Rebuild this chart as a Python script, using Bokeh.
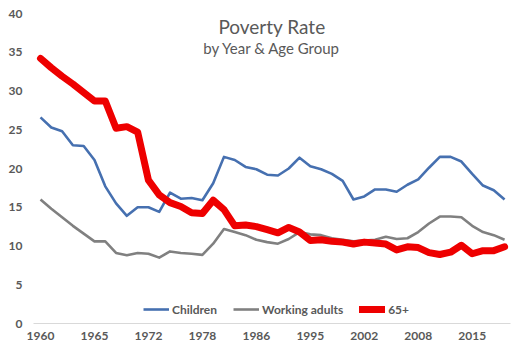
from bokeh.plotting import figure
from bokeh.models import Range1d, FixedTicker, Label, Legend, LegendItem, ColumnDataSource
from bokeh.embed import file_html
from bokeh.resources import INLINE

# ---- data ----
years = ["1960", "1961", "1962", "1963", "1964", "1965", "1966", "1968", "1969", "1970",
         "1972", "1973", "1975", "1976", "1977", "1978", "1980", "1983", "1984", "1985",
         "1986", "1988", "1989", "1990", "1993", "1995", "1996", "1997", "1998", "2000",
         "2002", "2003", "2004", "2005", "2007", "2008", "2009", "2010", "2011", "2013",
         "2015", "2016", "2017", "2018"]
children = [26.6, 25.3, 24.8, 23.0, 22.9, 21.1, 17.7, 15.5, 13.9, 15.0,
            15.0, 14.4, 16.9, 16.1, 16.2, 15.9, 18.1, 21.5, 21.1, 20.2,
            19.9, 19.2, 19.1, 20.0, 21.4, 20.3, 19.9, 19.3, 18.4, 16.0,
            16.4, 17.3, 17.3, 17.0, 17.9, 18.6, 20.1, 21.5, 21.5, 20.9,
            19.3, 17.8, 17.2, 16.0]
working = [16.0, 14.8, 13.7, 12.6, 11.6, 10.6, 10.6, 9.1, 8.8, 9.1,
           9.0, 8.5, 9.3, 9.1, 9.0, 8.85, 10.3, 12.2, 11.8, 11.4,
           10.8, 10.5, 10.3, 10.9, 11.8, 11.5, 11.4, 11.0, 10.8, 10.6,
           10.7, 10.8, 11.2, 10.9, 11.0, 11.8, 12.9, 13.8, 13.8, 13.7,
           12.6, 11.8, 11.4, 10.8]
seniors = [34.2, 33.0, 31.9, 30.9, 29.8, 28.7, 28.7, 25.2, 25.4, 24.7,
           18.5, 16.6, 15.6, 15.1, 14.3, 14.2, 15.9, 14.7, 12.6, 12.7,
           12.5, 12.1, 11.7, 12.4, 11.8, 10.7, 10.8, 10.6, 10.5, 10.25,
           10.5, 10.4, 10.25, 9.5, 9.9, 9.8, 9.15, 8.9, 9.2, 10.1,
           9.0, 9.4, 9.4, 9.9]
series_names = ["Children", "Working adults", "65+"]
y_ticks = [0, 5, 10, 15, 20, 25, 30, 35, 40]
x_label_every = 5

idx = list(range(len(years)))
src = ColumnDataSource(dict(x=idx, children=children, working=working, seniors=seniors))

FONT = "Lato"
TXT = "#595959"

p = figure(width=514, height=346, output_backend="svg", toolbar_location=None,
           x_range=Range1d(-0.65, len(years) - 1 + 0.55), y_range=Range1d(0, 40),
           min_border_left=33, min_border_right=4, min_border_top=13, min_border_bottom=23)
p.outline_line_color = None
p.grid.visible = False
p.background_fill_color = "white"
p.border_fill_color = "white"

r1 = p.line("x", "children", source=src, line_color="#4670b0", line_width=2.6, line_join="round")
r2 = p.line("x", "working", source=src, line_color="#808080", line_width=2.6, line_join="round")
r3 = p.line("x", "seniors", source=src, line_color="#ee0000", line_width=7, line_join="round",
            line_cap="round")

# axes
tick_idx = idx[::x_label_every]
p.xaxis.ticker = FixedTicker(ticks=tick_idx)
p.xaxis.major_label_overrides = {i: years[i] for i in tick_idx}
p.xaxis.axis_line_color = "#d9d9d9"
p.xaxis.major_tick_line_color = None
p.xaxis.minor_tick_line_color = None
p.xaxis.major_tick_out = 0
p.xaxis.major_tick_in = 0
p.xaxis.major_label_standoff = 8

p.yaxis.ticker = FixedTicker(ticks=y_ticks)
p.yaxis.axis_line_color = None
p.yaxis.major_tick_line_color = None
p.yaxis.minor_tick_line_color = None
p.yaxis.major_tick_out = 0
p.yaxis.major_tick_in = 0
p.yaxis.major_label_standoff = 11

for ax in (p.xaxis[0], p.yaxis[0]):
    ax.major_label_text_font = FONT
    ax.major_label_text_font_style = "bold"
    ax.major_label_text_font_size = "12px"
    ax.major_label_text_color = TXT

# title
xc = (p.x_range.start + p.x_range.end) / 2
p.add_layout(Label(x=xc, y=38.3, text="Poverty Rate", text_align="center", text_baseline="middle",
                   text_font=FONT, text_font_size="19px", text_color=TXT))
p.add_layout(Label(x=xc, y=35.6, text="by Year & Age Group", text_align="center",
                   text_baseline="middle", text_font=FONT, text_font_size="15px", text_color=TXT))

# legend
legend = Legend(items=[LegendItem(label=series_names[0], renderers=[r1]),
                       LegendItem(label=series_names[1], renderers=[r2]),
                       LegendItem(label=series_names[2], renderers=[r3])],
                orientation="horizontal", location=(110, 5),
                padding=0, margin=0, spacing=16, glyph_width=26, glyph_height=18,
                label_standoff=3, label_height=18,
                label_text_font=FONT, label_text_font_style="bold",
                label_text_font_size="12px", label_text_color=TXT,
                border_line_color=None, background_fill_alpha=0)
p.add_layout(legend)

open("out.html", "w").write(file_html(p, INLINE))
